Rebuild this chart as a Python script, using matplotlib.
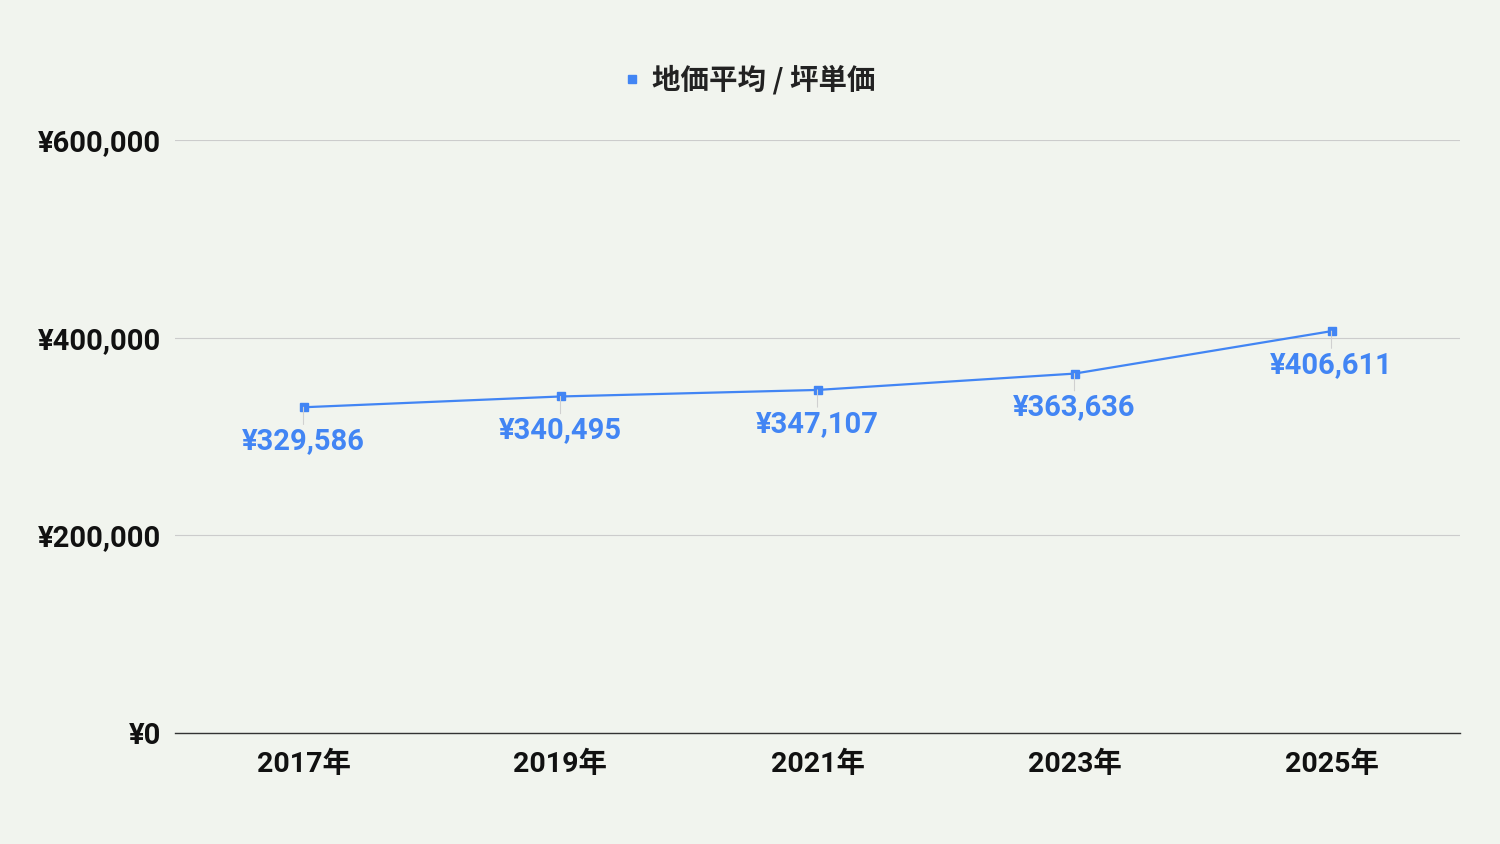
import matplotlib
matplotlib.use("Agg")
from matplotlib import pyplot as plt
from matplotlib.ticker import FuncFormatter

years = ["2017年", "2019年", "2021年", "2023年", "2025年"]
prices = [329586, 340495, 347107, 363636, 406611]
series_name = "地価平均 / 坪単価"
y_ticks = [0, 200000, 400000, 600000]

blue = "#4285F4"
bg = "#F1F4EE"

plt.rcParams["font.family"] = ["Roboto", "Noto Sans CJK JP", "DejaVu Sans"]
plt.rcParams["font.weight"] = "bold"

fig = plt.figure(figsize=(15, 8.44), dpi=100, facecolor=bg)
ax = fig.add_axes([175 / 1500, 1 - 733 / 844, 1285 / 1500, 593 / 844], facecolor=bg)

x = list(range(len(years)))
ax.plot(x, prices, color=blue, linewidth=1.6, marker="s", markersize=6,
        label=series_name, zorder=3)

# value labels under each point, with a faint leader line
for xi, p in zip(x, prices):
    ax.annotate("¥{:,}".format(p), xy=(xi, p), xytext=(0, -34),
                textcoords="offset pixels", ha="center", va="center",
                fontsize=21, fontweight="bold", color=blue,
                arrowprops=dict(arrowstyle="-", color="#D0D0D0", lw=0.8,
                                shrinkA=0, shrinkB=13))

ax.set_xlim(-0.5, len(years) - 0.5)
ax.set_ylim(0, 600000)
ax.set_xticks(x)
ax.set_xticklabels(years)
ax.set_yticks(y_ticks)
ax.yaxis.set_major_formatter(FuncFormatter(lambda v, _: "¥{:,}".format(int(v))))
ax.tick_params(axis="both", length=0, labelsize=21, colors="#111111")
ax.tick_params(axis="y", pad=10)
ax.tick_params(axis="x", pad=13, labelsize=20.5)
for lbl in ax.get_xticklabels() + ax.get_yticklabels():
    lbl.set_fontweight("bold")

ax.grid(axis="y", color="#CCCCCC", linewidth=0.8)
ax.set_axisbelow(True)
for side in ["top", "right", "left"]:
    ax.spines[side].set_visible(False)
ax.spines["bottom"].set_color("#333333")
ax.spines["bottom"].set_linewidth(1.0)

leg = fig.legend(loc="center", bbox_to_anchor=(0.5, 1 - 80 / 844), frameon=False,
                 handlelength=0.5, handletextpad=0.45,
                 prop={"family": ["Noto Sans CJK JP"], "weight": "bold", "size": 20.5})
for h in leg.legend_handles:
    h.set_linestyle("none")
    h.set_markersize(6)
for t in leg.get_texts():
    t.set_color("#222222")

fig.savefig("out.png", dpi=100, facecolor=bg)
